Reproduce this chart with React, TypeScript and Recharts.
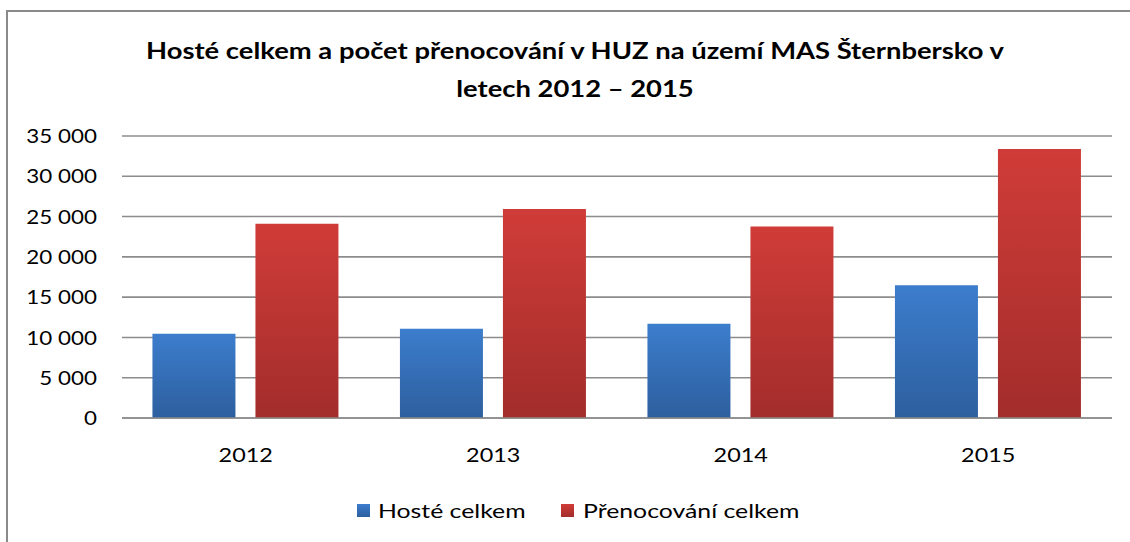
import { BarChart, Bar, XAxis, YAxis, CartesianGrid } from "recharts";

const years = ["2012", "2013", "2014", "2015"];
const hosteCelkem = [10450, 11070, 11690, 16490];
const prenocovaniCelkem = [24100, 25950, 23760, 33400];
const yTicks = [0, 5000, 10000, 15000, 20000, 25000, 30000, 35000];

const data = years.map((year, i) => ({
  year,
  hoste: hosteCelkem[i],
  prenocovani: prenocovaniCelkem[i],
}));

const font = "Lato, 'Open Sans', sans-serif";
const fmt = (v: number) => v.toLocaleString("en-US").replace(/,/g, " ");

// tick text, stretched a bit sideways like the original Calibri
function StretchTick(props: any) {
  const { x, y, payload, textAnchor, sx, shift, tickFormatter } = props;
  const label = tickFormatter ? tickFormatter(payload.value) : payload.value;
  return (
    <text
      x={x}
      y={y}
      dy={shift}
      textAnchor={textAnchor}
      fill="#000"
      fontSize={20}
      fontFamily={font}
      transform={`translate(${x},0) scale(${sx},1) translate(${-x},0)`}
    >
      {label}
    </text>
  );
}

export default function App() {
  return (
    <div
      style={{
        position: "absolute",
        left: 0,
        top: 0,
        width: 1130,
        height: 542,
        background: "#fff",
        overflow: "hidden",
        fontFamily: font,
      }}
    >
      <div
        style={{
          position: "absolute",
          left: 6,
          top: 10,
          width: 1200,
          height: 600,
          borderTop: "2px solid #8a8a8a",
          borderLeft: "2px solid #8a8a8a",
        }}
      />
      <div
        style={{
          position: "absolute",
          left: 0,
          top: 31,
          width: 1150,
          textAlign: "center",
          fontWeight: 700,
          fontSize: 23,
          lineHeight: "38px",
          color: "#000",
          transform: "scaleX(1.19)",
          transformOrigin: "575px 0",
        }}
      >
        Hosté celkem a počet přenocování v HUZ na území MAS Šternbersko v
        <br />
        letech 2012 – 2015
      </div>
      <BarChart
        width={1130}
        height={542}
        data={data}
        margin={{ top: 136, right: 18, bottom: 84, left: 0 }}
        barCategoryGap="12.3%"
        barGap={20}
        style={{ position: "absolute", left: 0, top: 0 }}
      >
        <defs>
          <linearGradient id="blueGrad" x1="0" y1="0" x2="0" y2="1">
            <stop offset="0%" stopColor="#3c7dcd" />
            <stop offset="100%" stopColor="#2d5f9e" />
          </linearGradient>
          <linearGradient id="redGrad" x1="0" y1="0" x2="0" y2="1">
            <stop offset="0%" stopColor="#d03c38" />
            <stop offset="100%" stopColor="#a22d2b" />
          </linearGradient>
        </defs>
        <CartesianGrid vertical={false} stroke="#8c8c8c" strokeWidth={1.6} />
        <XAxis
          dataKey="year"
          tickLine={false}
          axisLine={{ stroke: "#8c8c8c", strokeWidth: 1.6 }}
          tickSize={0}
          tickMargin={30}
          height={40}
          tick={<StretchTick sx={1.17} shift="0.71em" />}
        />
        <YAxis
          domain={[0, 35000]}
          ticks={yTicks}
          tickFormatter={fmt}
          tickLine={false}
          axisLine={false}
          tickSize={0}
          tickMargin={25}
          width={122}
          tick={<StretchTick sx={1.12} shift="0.355em" />}
        />
        <Bar dataKey="hoste" fill="url(#blueGrad)" isAnimationActive={false} />
        <Bar dataKey="prenocovani" fill="url(#redGrad)" isAnimationActive={false} />
      </BarChart>
      <div style={{ position: "absolute", top: 497, left: 0, width: 1130, fontSize: 20, color: "#000" }}>
        <div style={{ position: "absolute", left: 357, display: "flex", alignItems: "center", height: 26 }}>
          <span
            style={{
              display: "inline-block",
              width: 13,
              height: 13,
              background: "linear-gradient(#3c7dcd, #2d5f9e)",
              marginRight: 8,
            }}
          />
          <span style={{ display: "inline-block", transform: "scaleX(1.24)", transformOrigin: "0 0", whiteSpace: "nowrap" }}>
            Hosté celkem
          </span>
        </div>
        <div style={{ position: "absolute", left: 561, display: "flex", alignItems: "center", height: 26 }}>
          <span
            style={{
              display: "inline-block",
              width: 13,
              height: 13,
              background: "linear-gradient(#d03c38, #a22d2b)",
              marginRight: 9,
            }}
          />
          <span style={{ display: "inline-block", transform: "scaleX(1.24)", transformOrigin: "0 0", whiteSpace: "nowrap" }}>
            Přenocování celkem
          </span>
        </div>
      </div>
    </div>
  );
}
